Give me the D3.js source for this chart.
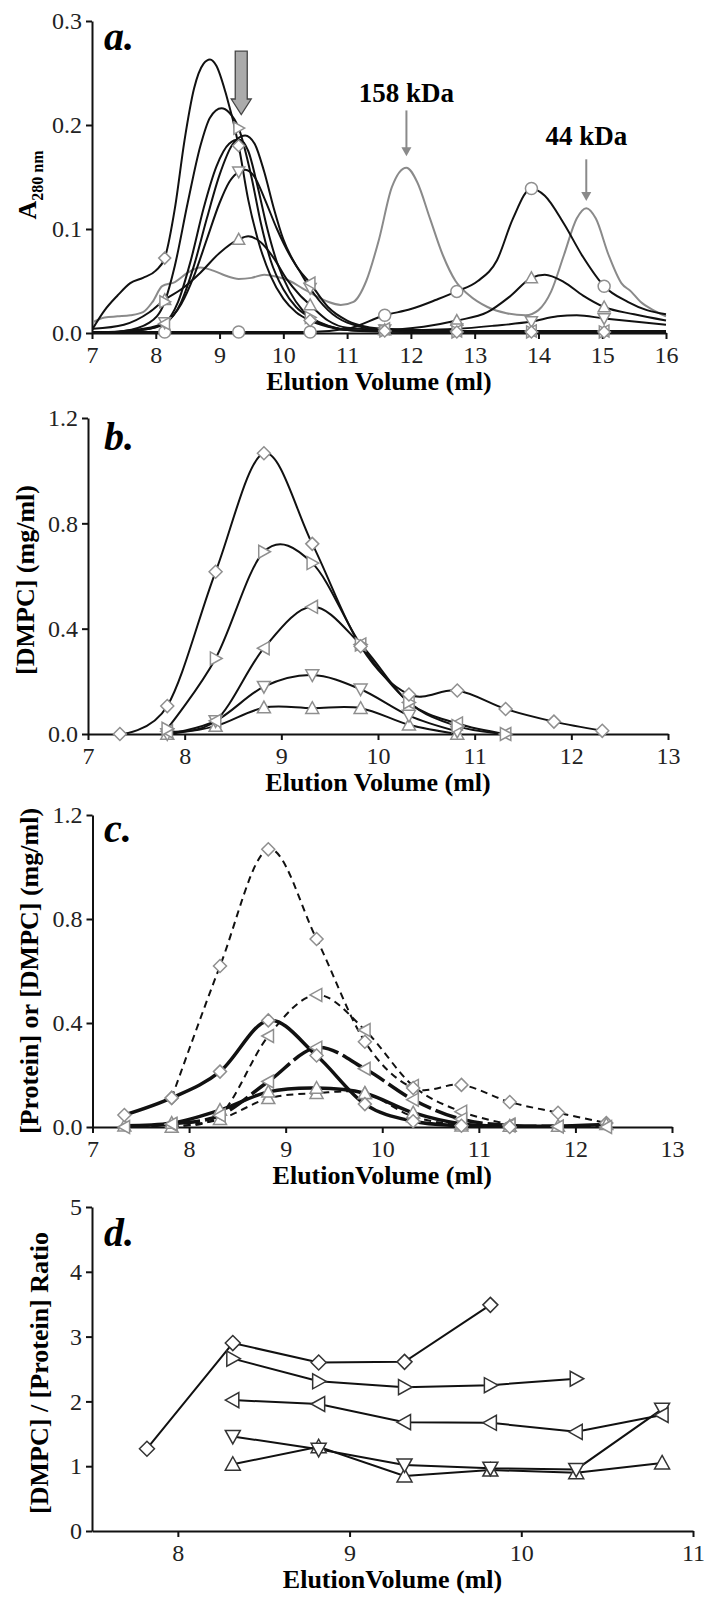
<!DOCTYPE html>
<html>
<head>
<meta charset="utf-8">
<script src="https://cdn.jsdelivr.net/npm/d3@7"></script>
<style>
  body { margin: 0; background: #fff; }
  text { font-family: "Liberation Serif", "Times New Roman", serif; }
</style>
</head>
<body>
<div id="chart"></div>
<script>
// Panel a: A280 traces, pairs of [elution ml, absorbance]
var aFractions = [8.14, 9.3, 10.42, 11.59, 12.72, 13.89, 15.03]
var aGrey = [[7.0,0.01],[7.2,0.015],[7.4,0.016],[7.6,0.017],[7.8,0.02],[7.95,0.03],[8.1,0.045],[8.3,0.049],[8.5,0.058],[8.7,0.063],[8.9,0.06],[9.1,0.055],[9.3,0.052],[9.5,0.053],[9.7,0.056],[9.9,0.054],[10.1,0.05],[10.3,0.043],[10.5,0.036],[10.7,0.03],[10.9,0.027],[11.1,0.03],[11.3,0.05],[11.5,0.09],[11.7,0.14],[11.93,0.159],[12.1,0.145],[12.3,0.11],[12.5,0.075],[12.7,0.05],[12.9,0.037],[13.2,0.025],[13.5,0.019],[13.8,0.017],[14.0,0.022],[14.2,0.04],[14.4,0.075],[14.6,0.11],[14.75,0.12],[14.9,0.11],[15.1,0.075],[15.3,0.048],[15.45,0.04],[15.6,0.03],[15.8,0.022],[16.0,0.016]]
var aDiamond = [[7.0,0.003],[7.2,0.022],[7.4,0.036],[7.6,0.048],[7.8,0.053],[8.0,0.06],[8.14,0.072],[8.3,0.12],[8.45,0.185],[8.6,0.235],[8.75,0.259],[8.85,0.263],[8.95,0.257],[9.1,0.23],[9.3,0.18],[9.45,0.128],[9.6,0.09],[9.8,0.055],[10.0,0.033],[10.2,0.02],[10.42,0.012],[10.7,0.006],[11.0,0.003],[11.59,0.002],[12.72,0.001],[13.89,0.001],[15.03,0.001],[16,0.001]]
var aRight = [[7.0,0],[7.5,0.002],[7.9,0.01],[8.14,0.03],[8.3,0.065],[8.5,0.125],[8.7,0.18],[8.85,0.207],[9.03,0.216],[9.15,0.212],[9.3,0.197],[9.5,0.15],[9.65,0.105],[9.8,0.07],[10.0,0.042],[10.2,0.025],[10.42,0.015],[10.7,0.007],[11,0.003],[11.59,0.002],[12.72,0.001],[13.89,0.001],[15.03,0.001],[16,0.001]]
var aPlain = [[7,0],[7.8,0.003],[8.14,0.01],[8.35,0.03],[8.55,0.07],[8.75,0.12],[8.95,0.16],[9.15,0.182],[9.3,0.186],[9.45,0.175],[9.6,0.14],[9.75,0.1],[9.9,0.068],[10.1,0.04],[10.3,0.022],[10.5,0.012],[10.8,0.005],[11.2,0.002],[12,0.001],[16,0.001]]
var aLeft = [[7,0],[7.8,0.003],[8.14,0.009],[8.4,0.03],[8.6,0.065],[8.8,0.11],[9.0,0.152],[9.2,0.181],[9.4,0.19],[9.55,0.182],[9.7,0.155],[9.85,0.12],[10.0,0.09],[10.2,0.065],[10.42,0.048],[10.7,0.025],[11.0,0.012],[11.3,0.006],[11.59,0.004],[12.72,0.002],[13.89,0.002],[15.03,0.002],[16,0.002]]
var aDown = [[7,0],[7.8,0.004],[8.14,0.01],[8.4,0.028],[8.6,0.055],[8.8,0.09],[9.0,0.125],[9.15,0.145],[9.3,0.155],[9.4,0.157],[9.55,0.15],[9.7,0.13],[9.9,0.1],[10.1,0.075],[10.25,0.06],[10.42,0.043],[10.7,0.022],[11,0.01],[11.59,0.003],[12.2,0.003],[12.72,0.004],[13.3,0.007],[13.89,0.011],[14.3,0.016],[14.6,0.017],[15.03,0.014],[15.5,0.011],[16,0.008]]
var aUp = [[7,0.004],[7.5,0.008],[7.9,0.02],[8.14,0.032],[8.4,0.042],[8.7,0.058],[9.0,0.077],[9.3,0.09],[9.45,0.093],[9.65,0.087],[9.85,0.072],[10.05,0.052],[10.25,0.037],[10.42,0.027],[10.7,0.012],[11,0.005],[11.59,0.003],[12.2,0.006],[12.72,0.012],[13.2,0.02],[13.55,0.035],[13.89,0.053],[14.1,0.056],[14.4,0.049],[14.7,0.036],[15.03,0.025],[15.5,0.018],[16,0.012]]
var aCircle = [[7,0.001],[8.14,0.001],[9.3,0.001],[10.42,0.001],[11,0.004],[11.59,0.017],[12.0,0.023],[12.4,0.032],[12.72,0.04],[13.05,0.05],[13.35,0.07],[13.6,0.11],[13.89,0.139],[14.1,0.132],[14.4,0.105],[14.7,0.073],[15.03,0.045],[15.4,0.03],[15.7,0.022],[16,0.018]]
var aStandards = [{label: '158 kDa', ml: 11.93, top: 0.214, tip: 0.17, textY: 0.222},
                  {label: '44 kDa', ml: 14.75, top: 0.167, tip: 0.127, textY: 0.181}]
var aBigArrow = {ml: 9.34, top: 0.271, neck: 0.225, tip: 0.21}

// Panels b and c: fractions collected every 0.5 ml
var fractionMl = [7.33, 7.82, 8.32, 8.82, 9.32, 9.82, 10.32, 10.82, 11.32, 11.82, 12.32]
var bDiamond = [0.0, 0.106, 0.616, 1.066, 0.722, 0.333, 0.15, 0.165, 0.095, 0.047, 0.012]
var bRight   = [null, 0.02, 0.287, 0.692, 0.649, 0.34, 0.12, 0.03, 0.0, null, null]
var bLeft    = [null, 0.01, 0.05, 0.326, 0.483, 0.34, 0.12, 0.04, 0.0, null, null]
var bDown    = [null, 0.0, 0.05, 0.18, 0.224, 0.17, 0.07, 0.01, null, null, null]
var bUp      = [null, 0.0, 0.03, 0.1, 0.098, 0.098, 0.035, 0.0, null, null, null]

// panel c: protein (solid) and DMPC (dashed)
var cDiamondProt = [0.046, 0.112, 0.213, 0.41, 0.275, 0.088, 0.022, 0.005, 0.0, null, null]
var cLeftProt    = [0.0, 0.012, 0.045, 0.175, 0.305, 0.224, 0.105, 0.03, 0.006, 0.002, 0.0]
var cUpProt      = [0.005, 0.015, 0.065, 0.135, 0.15, 0.13, 0.055, 0.012, 0.004, 0.004, 0.01]
var cDiamondLip  = [null, 0.112, 0.619, 1.068, 0.723, 0.328, 0.15, 0.162, 0.096, 0.055, 0.015]
var cLeftLip     = [null, 0.01, 0.045, 0.35, 0.508, 0.373, 0.158, 0.059, 0.01, null, null]
var cUpLip       = [null, 0.0, 0.03, 0.11, 0.13, 0.13, 0.04, 0.005, null, null, null]

// panel d: ratio
var ratioMl   = [7.82, 8.32, 8.82, 9.32, 9.82, 10.32, 10.82]
var dDiamond  = [1.27, 2.9, 2.6, 2.61, 3.49, null, null]
var dRight    = [null, 2.66, 2.31, 2.22, 2.25, 2.35, null]
var dLeft     = [null, 2.02, 1.96, 1.68, 1.67, 1.53, 1.79]
var dDown     = [null, 1.46, 1.26, 1.02, 0.97, 0.95, 1.88]
var dUp       = [null, 1.03, 1.30, 0.85, 0.94, 0.9, 1.05]

var serif = '"Liberation Serif", "Times New Roman", serif'

var svg = d3.select('#chart').append('svg')
            .attr('width', 704)
            .attr('height', 1601)

function zip(xs, ys) {
  var out = []
  xs.forEach(function(v, i) { if (ys[i] != null) out.push([v, ys[i]]) })
  return out
}

function markerPath(type, r) {
  var k = 0.8 * r
  if (type == 'diamond') return 'M0,' + (-r) + 'L' + r + ',0L0,' + r + 'L' + (-r) + ',0Z'
  if (type == 'up') return 'M0,' + (-r) + 'L' + r + ',' + k + 'L' + (-r) + ',' + k + 'Z'
  if (type == 'down') return 'M0,' + r + 'L' + r + ',' + (-k) + 'L' + (-r) + ',' + (-k) + 'Z'
  if (type == 'right') return 'M' + r + ',0L' + (-k) + ',' + (-r) + 'L' + (-k) + ',' + r + 'Z'
  if (type == 'left') return 'M' + (-r) + ',0L' + k + ',' + (-r) + 'L' + k + ',' + r + 'Z'
  return d3.symbol(d3.symbolCircle, Math.PI * r * r)()
}

function makePanel(p) {
  var x = d3.scaleLinear().domain(p.xDomain).range(p.xRange)
  var y = d3.scaleLinear().domain(p.yDomain).range(p.yRange)
  var g = svg.append('g')

  svg.append('clipPath').attr('id', 'clip' + p.id)
     .append('rect')
     .attr('x', p.xRange[0] + 1).attr('y', p.yRange[1] - 40)
     .attr('width', p.xRange[1] - p.xRange[0])
     .attr('height', p.yRange[0] - p.yRange[1] + 40)

  g.append('g').attr('transform', 'translate(0,' + p.yRange[0] + ')')
   .call(d3.axisBottom(x).tickValues(p.xTicks).tickSize(6).tickSizeOuter(0)
           .tickPadding(7).tickFormat(d3.format('d')))
  g.append('g').attr('transform', 'translate(' + p.xRange[0] + ',0)')
   .call(d3.axisLeft(y).tickValues(p.yTicks).tickSize(6).tickSizeOuter(0)
           .tickPadding(4).tickFormat(p.yFormat))
  g.selectAll('.domain, .tick line').attr('stroke', '#111').attr('stroke-width', 2)
  g.selectAll('.tick text').attr('font-size', 24).attr('fill', '#222')
   .attr('font-family', serif)

  g.append('text')
   .attr('x', (p.xRange[0] + p.xRange[1]) / 2)
   .attr('y', p.yRange[0] + 57)
   .attr('text-anchor', 'middle')
   .attr('font-size', 26).attr('font-weight', 'bold')
   .text(p.xTitle)

  var yt = g.append('text')
   .attr('transform', 'translate(' + p.yTitleX + ',' + p.yTitleY + ') rotate(-90)')
   .attr('text-anchor', 'middle')
   .attr('font-size', 26).attr('font-weight', 'bold')
  yt.append('tspan').text(p.yTitle)
  if (p.ySub) yt.append('tspan').attr('font-size', 16).attr('dy', 7).text(p.ySub)

  g.append('text')
   .attr('x', 104).attr('y', p.letterY)
   .attr('font-size', 40).attr('font-weight', 'bold').attr('font-style', 'italic')
   .text(p.letter)

  var plot = g.append('g').attr('clip-path', 'url(#clip' + p.id + ')')
  return {x: x, y: y, g: g, plot: plot}
}

function drawSeries(P, pts, opt) {
  var line = d3.line()
               .x(function(d) { return P.x(d[0]) })
               .y(function(d) { return P.y(d[1]) })
               .curve(opt.curve)
  P.plot.append('path')
   .attr('d', line(pts))
   .attr('fill', 'none')
   .attr('stroke', opt.color || '#111')
   .attr('stroke-width', opt.width || 2)
   .attr('stroke-dasharray', opt.dash || null)
}

function drawMarks(P, pts, type, r, stroke) {
  P.g.selectAll(null).data(pts).enter().append('path')
   .attr('transform', function(d) { return 'translate(' + P.x(d[0]) + ',' + P.y(d[1]) + ')' })
   .attr('d', markerPath(type, r))
   .attr('fill', '#fff')
   .attr('stroke', stroke)
   .attr('stroke-width', 1.5)
}

// ---------- panel a ----------
var A = makePanel({id: 'a', xDomain: [7, 16], xRange: [92, 666], yDomain: [0, 0.3], yRange: [333, 21],
                   xTicks: d3.range(7, 17), yTicks: [0, 0.1, 0.2, 0.3], yFormat: d3.format('.1f'),
                   xTitle: 'Elution Volume (ml)', yTitle: 'A', ySub: '280 nm', yTitleX: 36, yTitleY: 185,
                   letter: 'a.', letterY: 50})

var aSeries = [
  {pts: aGrey, color: '#8a8a8a', mark: null},
  {pts: aCircle, mark: 'circle'},
  {pts: aUp, mark: 'up'},
  {pts: aDown, mark: 'down'},
  {pts: aLeft, mark: 'left'},
  {pts: aPlain, mark: null},
  {pts: aRight, mark: 'right'},
  {pts: aDiamond, mark: 'diamond'}
]
aSeries.forEach(function(s) {
  drawSeries(A, s.pts, {curve: d3.curveMonotoneX, color: s.color, width: 2})
})
aSeries.forEach(function(s) {
  if (!s.mark) return
  var m = s.pts.filter(function(d) { return aFractions.indexOf(d[0]) >= 0 })
  drawMarks(A, m, s.mark, 6, '#8f8f8f')
})

// standards arrows
aStandards.forEach(function(s) {
  var xx = A.x(s.ml)
  A.g.append('line').attr('x1', xx).attr('x2', xx)
     .attr('y1', A.y(s.top)).attr('y2', A.y(s.tip) - 8)
     .attr('stroke', '#8a8a8a').attr('stroke-width', 2)
  A.g.append('path')
     .attr('d', 'M' + (xx - 5) + ',' + (A.y(s.tip) - 9) + 'L' + (xx + 5) + ',' + (A.y(s.tip) - 9) +
                'L' + xx + ',' + A.y(s.tip) + 'Z')
     .attr('fill', '#8a8a8a')
  A.g.append('text').attr('x', xx).attr('y', A.y(s.textY))
     .attr('text-anchor', 'middle').attr('font-size', 27).attr('font-weight', 'bold')
     .text(s.label)
})

var bx = A.x(aBigArrow.ml)
A.g.append('path')
   .attr('d', 'M' + (bx - 6) + ',' + A.y(aBigArrow.top) + 'L' + (bx + 6) + ',' + A.y(aBigArrow.top) +
              'L' + (bx + 6) + ',' + A.y(aBigArrow.neck) + 'L' + (bx + 10) + ',' + A.y(aBigArrow.neck) +
              'L' + bx + ',' + A.y(aBigArrow.tip) + 'L' + (bx - 10) + ',' + A.y(aBigArrow.neck) +
              'L' + (bx - 6) + ',' + A.y(aBigArrow.neck) + 'Z')
   .attr('fill', '#ababab').attr('stroke', '#444').attr('stroke-width', 1.3)

// ---------- panel b ----------
var B = makePanel({id: 'b', xDomain: [7, 13], xRange: [88, 668], yDomain: [0, 1.2], yRange: [734, 418],
                   xTicks: d3.range(7, 14), yTicks: [0, 0.4, 0.8, 1.2], yFormat: d3.format('.1f'),
                   xTitle: 'Elution Volume (ml)', yTitle: '[DMPC] (mg/ml)', yTitleX: 34, yTitleY: 580,
                   letter: 'b.', letterY: 450})

var bSeries = [[bUp, 'up'], [bDown, 'down'], [bLeft, 'left'], [bRight, 'right'], [bDiamond, 'diamond']]
bSeries.forEach(function(s) {
  drawSeries(B, zip(fractionMl, s[0]), {curve: d3.curveCardinal.tension(0), width: 2})
})
bSeries.forEach(function(s) {
  drawMarks(B, zip(fractionMl, s[0]), s[1], 6.5, '#8f8f8f')
})

// ---------- panel c ----------
var C = makePanel({id: 'c', xDomain: [7, 13], xRange: [92.5, 672], yDomain: [0, 1.2], yRange: [1127, 815],
                   xTicks: d3.range(7, 14), yTicks: [0, 0.4, 0.8, 1.2], yFormat: d3.format('.1f'),
                   xTitle: 'ElutionVolume (ml)', yTitle: '[Protein] or [DMPC] (mg/ml)', yTitleX: 38, yTitleY: 971,
                   letter: 'c.', letterY: 842})

var cLip = [[cUpLip, 'up'], [cLeftLip, 'left'], [cDiamondLip, 'diamond']]
var cProt = [[cUpProt, 'up', null], [cLeftProt, 'left', '22,5'], [cDiamondProt, 'diamond', null]]
cLip.forEach(function(s) {
  drawSeries(C, zip(fractionMl, s[0]), {curve: d3.curveCardinal.tension(0), width: 2, dash: '7,5'})
})
cProt.forEach(function(s) {
  drawSeries(C, zip(fractionMl, s[0]), {curve: d3.curveCardinal.tension(0), width: 3.5, dash: s[2]})
})
cLip.concat(cProt).forEach(function(s) {
  drawMarks(C, zip(fractionMl, s[0]), s[1], 6.5, '#8f8f8f')
})

// ---------- panel d ----------
var D = makePanel({id: 'd', xDomain: [7.5, 11], xRange: [92, 693], yDomain: [0, 5], yRange: [1531, 1207],
                   xTicks: [8, 9, 10, 11], yTicks: [0, 1, 2, 3, 4, 5], yFormat: d3.format('d'),
                   xTitle: 'ElutionVolume (ml)', yTitle: '[DMPC] / [Protein] Ratio', yTitleX: 48, yTitleY: 1373,
                   letter: 'd.', letterY: 1246})

var dSeries = [[dUp, 'up'], [dDown, 'down'], [dLeft, 'left'], [dRight, 'right'], [dDiamond, 'diamond']]
dSeries.forEach(function(s) {
  drawSeries(D, zip(ratioMl, s[0]), {curve: d3.curveLinear, width: 2})
})
dSeries.forEach(function(s) {
  drawMarks(D, zip(ratioMl, s[0]), s[1], 7.5, '#333')
})
</script>
</body>
</html>
